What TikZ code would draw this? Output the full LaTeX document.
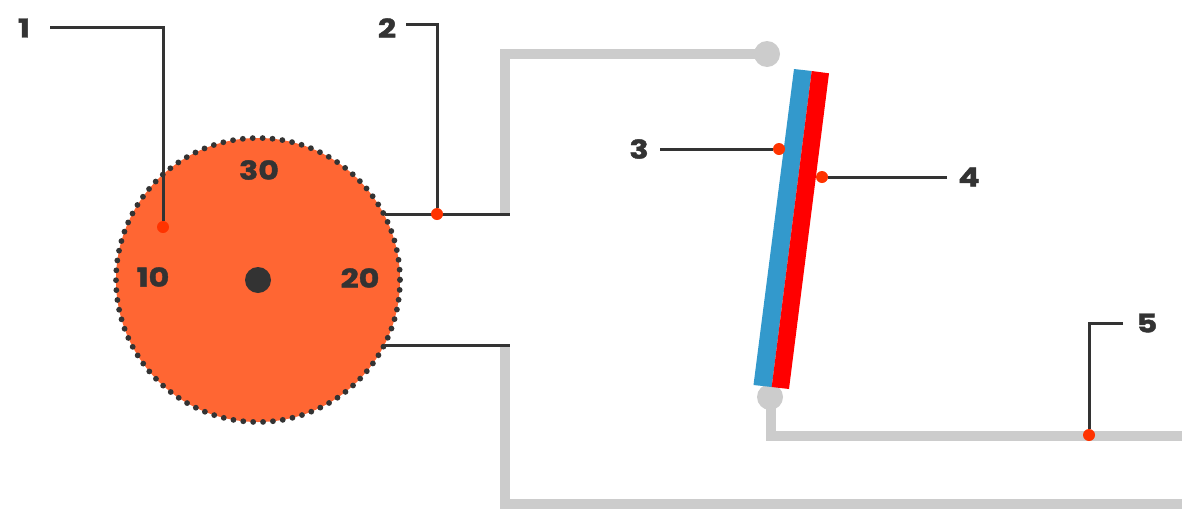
\documentclass[tikz,border=0pt]{standalone}
\usepackage{fontspec}
\setmainfont{Poppins}[BoldFeatures={FakeBold=1.6,FakeStretch=1.22}]
\definecolor{dial}{HTML}{FF6633}
\definecolor{ink}{HTML}{333333}
\definecolor{wire}{HTML}{CCCCCC}
\definecolor{mark}{HTML}{FF3300}
\definecolor{stripblue}{HTML}{3399CC}
\definecolor{stripred}{HTML}{FF0000}
\tikzset{
  wireline/.style={draw=wire,line width=10pt,line join=miter},
  leader/.style={draw=ink,line width=3pt,line join=miter},
  pin/.style={circle,fill=mark,draw=none,inner sep=0pt,minimum size=12pt},
  terminal/.style={circle,fill=wire,draw=none,inner sep=0pt,minimum size=26pt},
  lbl/.style={font=\fontsize{26pt}{26pt}\selectfont\bfseries,text=ink,inner sep=0pt,anchor=center},
}
\begin{document}
\begin{tikzpicture}[x=1pt,y=-1pt]
\useasboundingbox (0,0) rectangle (1192,520);
% grey wires
\coordinate (wa) at (505,214);
\coordinate (wb) at (505,54);
\coordinate (wc) at (505,345);
\coordinate (wd) at (505,504);
\coordinate (we) at (1182,504);
\coordinate (wh) at (771,397);
\coordinate (wf) at (771,436);
\coordinate (wg) at (1182,436);
\node[terminal] (topterm) at (767,54) {};
\node[terminal] (botterm) at (770,397) {};
\draw[wireline] (wa) -- (wb) -- (topterm.center);
\draw[wireline] (wc) -- (wd) -- (we);
\draw[wireline] (wh) -- (wf) -- (wg);
% dial
\node[circle,fill=dial,draw=none,inner sep=0pt,minimum size=284pt] (dial) at (258,280) {};
\draw[ink,line width=5.8pt,line cap=round,dash pattern=on 0pt off 9.91pt] (258,280) circle[radius=142];
\node[circle,fill=ink,draw=none,inner sep=0pt,minimum size=26pt] (hub) at (258,280) {};
\node[lbl] (n30) at (259,170) {30};
\node[lbl] (n10) at (153,277) {10};
\node[lbl] (n20) at (360,278) {20};
% strip
\fill[stripblue] (794,69) -- (811.7,71) -- (771.7,387) -- (753.5,385) -- cycle;
\fill[stripred] (811.7,71) -- (829,73.3) -- (789,389) -- (771.7,387) -- cycle;
% dial leads
\coordinate (la) at (385,214);
\coordinate (lb) at (510,214);
\coordinate (lc) at (385,345);
\coordinate (ld) at (510,345);
\draw[leader] (la) -- (lb);
\draw[leader] (lc) -- (ld);
% callouts
\node[lbl] (c1) at (24,28) {1};
\node[lbl] (c2) at (387,28) {2};
\node[lbl] (c3) at (639,149) {3};
\node[lbl] (c4) at (969,177) {4};
\node[lbl] (c5) at (1147,323) {5};
\node[pin] (p1) at (163,227) {};
\node[pin] (p2) at (437,214) {};
\node[pin] (p3) at (779,149) {};
\node[pin] (p4) at (822,177) {};
\node[pin] (p5) at (1089,435) {};
\coordinate (a1) at (50,27);
\coordinate (b1) at (163,27);
\coordinate (a2) at (406,24);
\coordinate (b2) at (437,24);
\coordinate (a3) at (660,149);
\coordinate (a4) at (947,177);
\coordinate (a5) at (1123,323);
\coordinate (b5) at (1089,323);
\draw[leader] (a1) -- (b1) -- (p1);
\draw[leader] (a2) -- (b2) -- (p2);
\draw[leader] (a3) -- (p3);
\draw[leader] (a4) -- (p4);
\draw[leader] (a5) -- (b5) -- (p5);
\end{tikzpicture}
\end{document}
